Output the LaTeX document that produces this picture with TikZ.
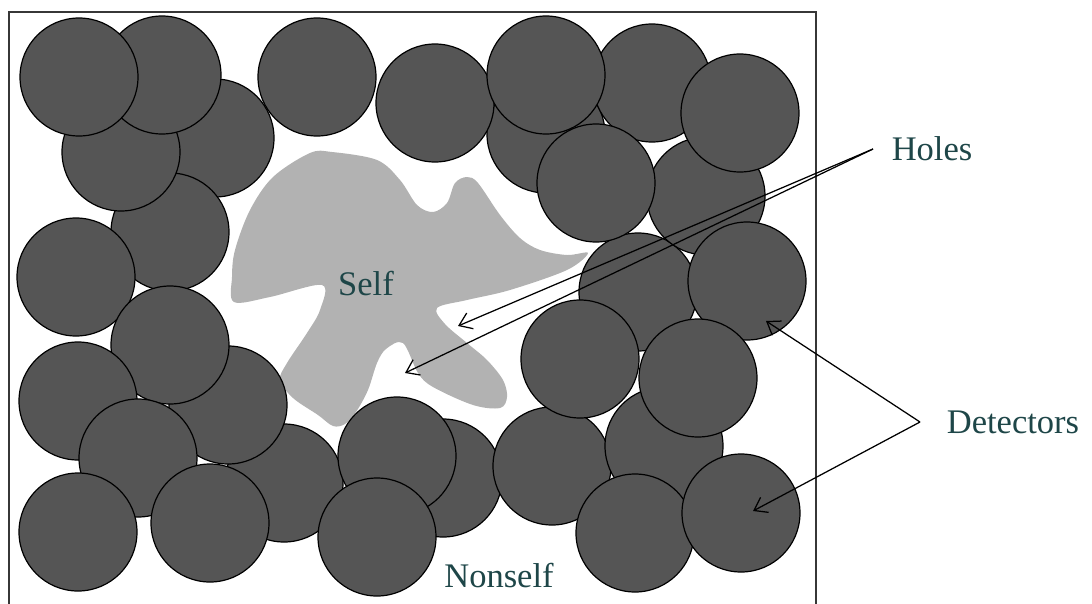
\documentclass[tikz,border=0pt]{standalone}
\usepackage{fontspec}
\setmainfont{Liberation Serif}
\usetikzlibrary{arrows.meta}
\definecolor{detfill}{RGB}{85,85,85}
\definecolor{selffill}{RGB}{178,178,178}
\definecolor{labelink}{RGB}{30,70,72}
\definecolor{framecol}{RGB}{55,55,55}
\begin{document}
\begin{tikzpicture}[x=1pt,y=-1pt,
  det/.style={circle,draw=black,line width=1.2pt,fill=detfill,minimum size=118pt,inner sep=0pt},
  lbl/.style={text=labelink,font=\fontsize{34.5}{40}\selectfont,inner sep=0pt,anchor=base},
  ptr/.style={draw=black,line width=1.25pt,-{Straight Barb[length=12pt,width=17pt,line width=1.25pt]}}]
\useasboundingbox (0,0) rectangle (1092,603);

% self region
\fill[selffill] plot[smooth cycle,tension=0.55] coordinates {
  (310,153) (332,152) (377,160) (400,180) (417,205) (433,212) (447,203)
  (455,183) (467,177) (478,183) (500,215) (520,238) (540,250) (567,255)
  (588,253) (567,270) (510,290) (467,300) (437,308) (445,324) (467,343)
  (487,360) (503,380) (507,397) (500,408) (473,405) (433,387) (418,373)
  (403,343) (386,349) (377,363) (368,390) (356,412) (345,424) (333,426)
  (318,415) (293,398) (280,380) (287,363) (307,333) (320,310) (322,285)
  (270,297) (234,302) (232,277) (235,250) (250,210) (273,177)};

% detectors, back to front
\node[det] (d1)  at (215,138) {};
\node[det] (d2)  at (170,232) {};
\node[det] (d4)  at (121,152) {};
\node[det] (d3)  at (162,75)  {};
\node[det] (d5)  at (79,77)   {};
\node[det] (d6)  at (76,277)  {};
\node[det] (d7)  at (284,483) {};
\node[det] (d8)  at (228,405) {};
\node[det] (d9)  at (170,345) {};
\node[det] (d10) at (78,401)  {};
\node[det] (d11) at (138,458) {};
\node[det] (d12) at (78,532)  {};
\node[det] (d13) at (210,523) {};
\node[det] (d14) at (317,77)  {};
\node[det] (d15) at (443,478) {};
\node[det] (d16) at (397,456) {};
\node[det] (d17) at (377,537) {};
\node[det] (d18) at (552,466) {};
\node[det] (d19) at (664,446) {};
\node[det] (d20) at (638,292) {};
\node[det] (d21) at (706,196) {};
\node[det] (d22) at (546,134) {};
\node[det] (d23) at (652,83)  {};
\node[det] (d24) at (435,103) {};
\node[det] (d25) at (546,75)  {};
\node[det] (d26) at (596,183) {};
\node[det] (d27) at (740,113) {};
\node[det] (d28) at (747,281) {};
\node[det] (d29) at (580,359) {};
\node[det] (d30) at (698,378) {};
\node[det] (d31) at (635,533) {};
\node[det] (d32) at (741,513) {};

% frame (runs off the lower edge)
\draw[framecol,line width=1.3pt] (9,620) -- (9,12) -- (816,12) -- (816,620);

% labels
\node[lbl] (self)    at (366,295) {Self};
\node[lbl] (nonself) at (499,587) {Nonself};
\node[lbl] (holes)   at (932,160) {Holes};
\node[lbl] (dets)    at (1013,433) {Detectors};

% pointer feet and tips
\coordinate (hfoot) at (873,149);
\coordinate (dfoot) at (920,422);
\coordinate (hole1) at (458,326);
\coordinate (hole2) at (405,373);
\coordinate (dtip1) at (766,321);
\coordinate (dtip2) at (753,511);

\draw[ptr] (hfoot) -- (hole1);
\draw[ptr] (hfoot) -- (hole2);
\draw[ptr] (dfoot) -- (dtip1);
\draw[ptr] (dfoot) -- (dtip2);
\end{tikzpicture}
\end{document}
